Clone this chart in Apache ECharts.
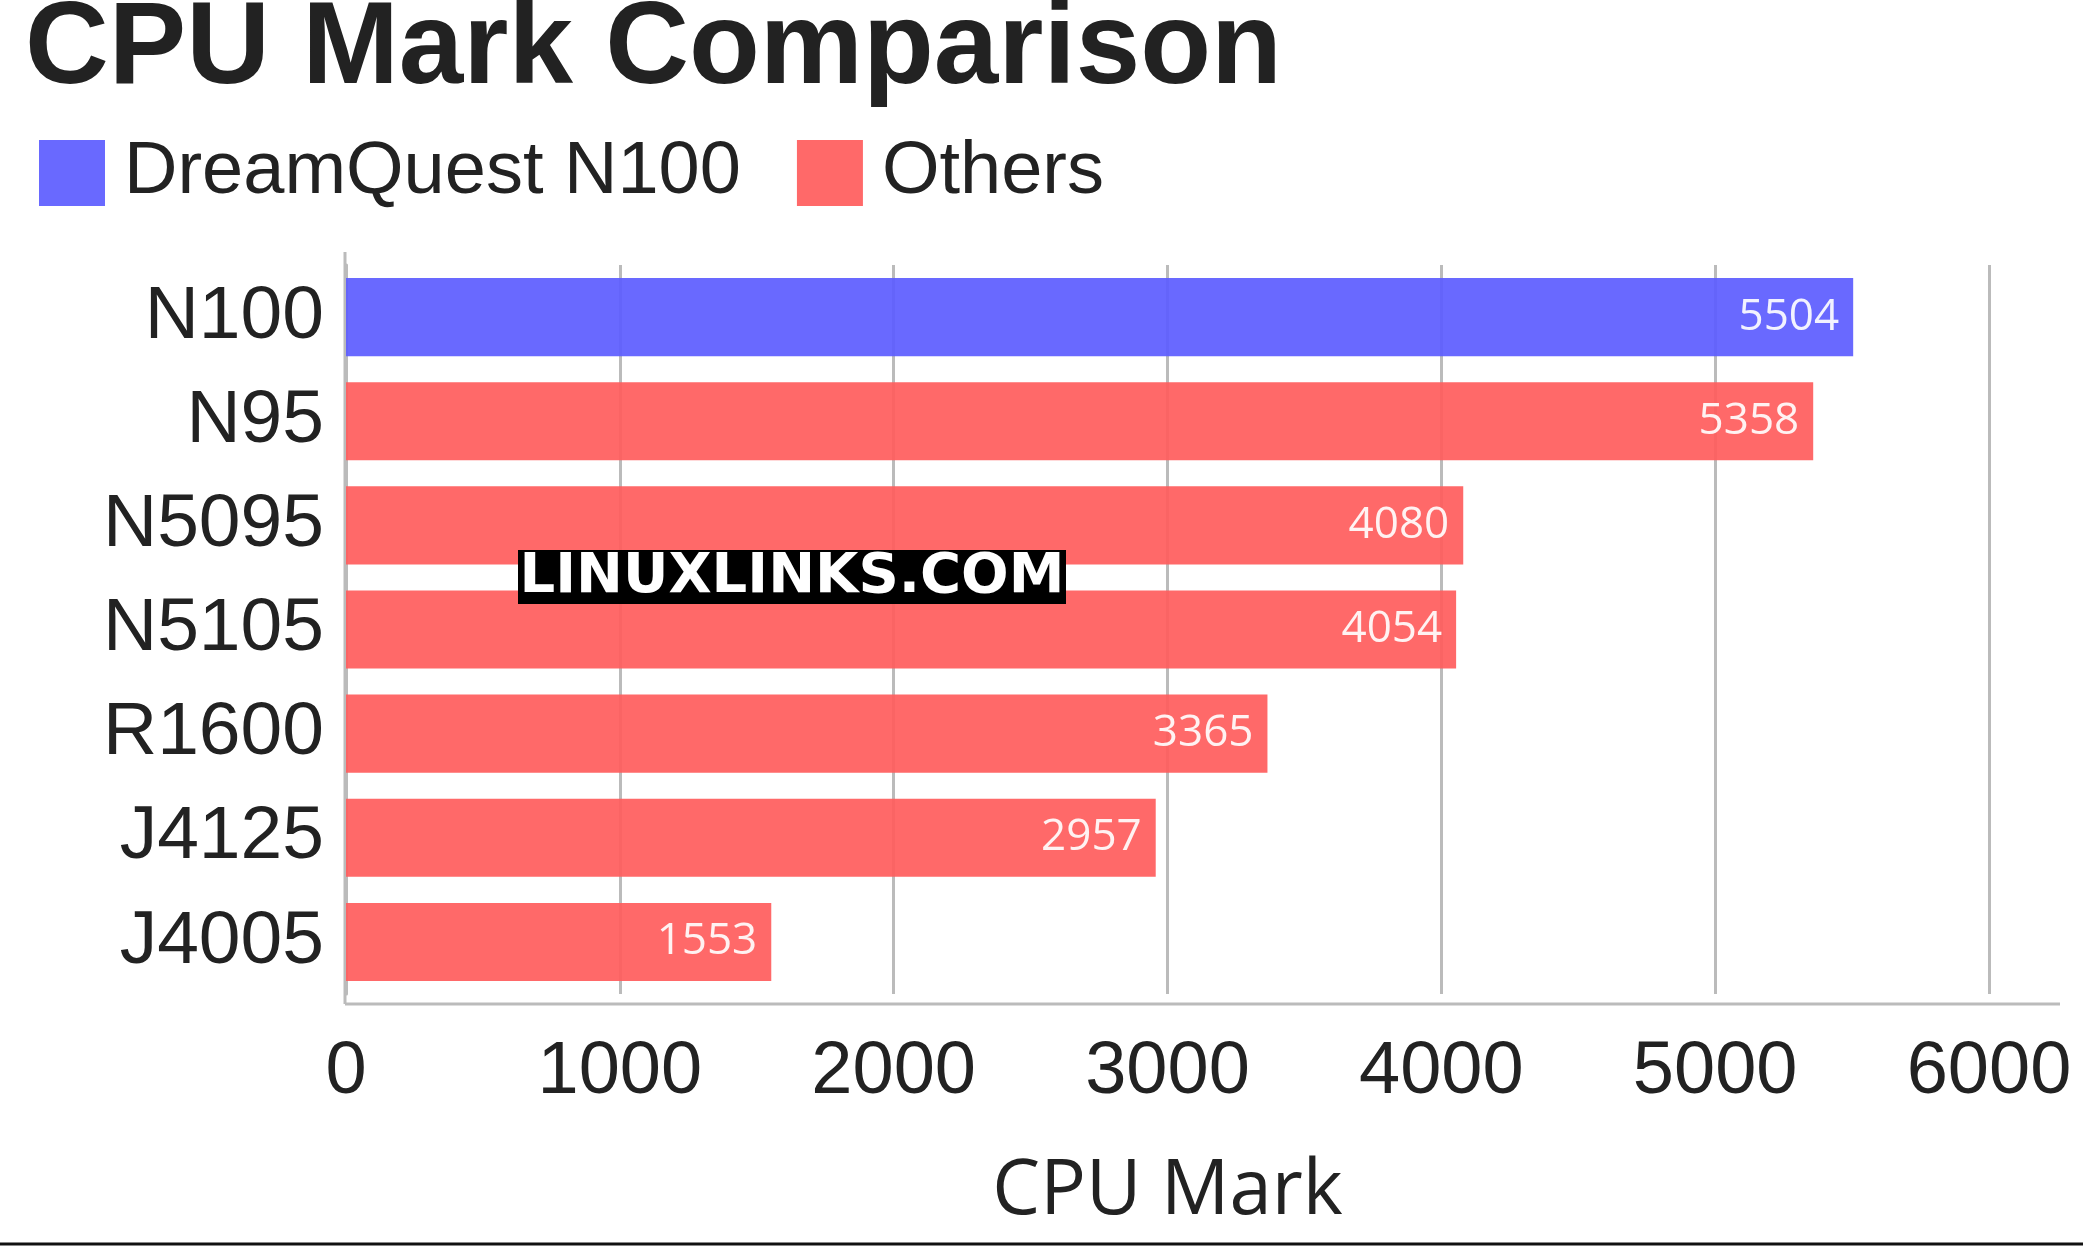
<!DOCTYPE html>
<html><head><meta charset="utf-8">
<script src="https://cdn.jsdelivr.net/npm/echarts@6/dist/echarts.min.js"></script>
<style>html,body{margin:0;padding:0;background:#fff}#c{width:2083px;height:1247px}</style>
</head><body><div id="c"></div>
<script>
const categories = ['N100','N95','N5095','N5105','R1600','J4125','J4005'];
const dreamQuest = [5504, null, null, null, null, null, null];
const others = [null, 5358, 4080, 4054, 3365, 2957, 1553];
const xTicks = [0,1000,2000,3000,4000,5000,6000];

const chart = echarts.init(document.getElementById('c'));
const lbl = {show:true, position:'insideRight', color:'#fff', fontSize:44, fontFamily:'Open Sans', distance:14};
chart.setOption({
  animation:false,
  title:{text:'CPU Mark Comparison', left:20, top:-12, textStyle:{fontSize:116, fontWeight:'bold', color:'#222', fontFamily:'Liberation Sans'}},
  legend:{left:34, top:131, itemWidth:66, itemHeight:66, itemGap:56, textStyle:{fontSize:74, color:'#222', fontFamily:'Liberation Sans', padding:[0,0,0,14]},
    data:[{name:'DreamQuest N100',icon:'rect'},{name:'Others',icon:'rect'}]},
  grid:{left:346, right:94, top:265, bottom:253, containLabel:false},
  xAxis:{type:'value', min:0, max:6000, interval:1000,
    name:'CPU Mark', nameLocation:'middle', nameGap:160, nameTextStyle:{fontSize:76, color:'#222', fontFamily:'Open Sans'},
    axisLabel:{fontSize:74, color:'#222', fontFamily:'Liberation Sans', margin:42, formatter:v=>String(v)},
    splitLine:{lineStyle:{color:'#bbb', width:3}},
    axisLine:{show:false}, axisTick:{show:false}},
  yAxis:{type:'category', data:categories, inverse:true,
    axisLabel:{fontSize:75, color:'#222', fontFamily:'Liberation Sans', margin:22},
    axisLine:{lineStyle:{color:'#bbb', width:3}}, axisTick:{show:false}},
  series:[
    {name:'DreamQuest N100', type:'bar', stack:'s', data:dreamQuest, itemStyle:{color:'#5c5cff', opacity:0.92}, barCategoryGap:'25%', label:lbl},
    {name:'Others', type:'bar', stack:'s', data:others, itemStyle:{color:'#ff5c5c', opacity:0.92}, label:lbl}
  ],
  graphic:[
    {type:'line', shape:{x1:345,y1:1004,x2:2060,y2:1004}, style:{stroke:'#bbb', lineWidth:3}, z:-1},
    {type:'line', shape:{x1:345,y1:252,x2:345,y2:1004}, style:{stroke:'#bbb', lineWidth:3}, z:-1},
    {type:'line', shape:{x1:0,y1:1244,x2:2083,y2:1244}, style:{stroke:'#111', lineWidth:3}},
    {type:'rect', zlevel:1, shape:{x:518,y:550,width:548,height:54}, style:{fill:'#000'}},
    {type:'text', zlevel:1, x:792, y:577, style:{text:'LINUXLINKS.COM', fill:'#fff', font:'bold 56px "DejaVu Sans"', textAlign:'center', textVerticalAlign:'middle'}}
  ]
});
</script></body></html>
